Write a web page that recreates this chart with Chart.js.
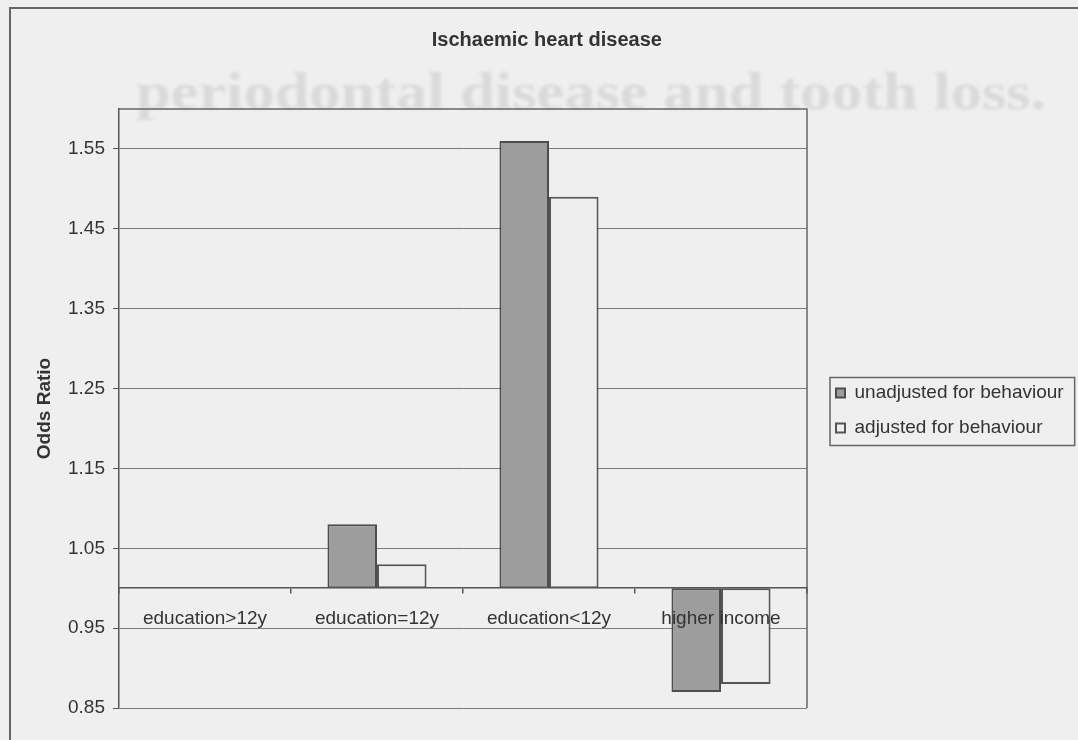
<!DOCTYPE html>
<html lang="en">
<head>
<meta charset="utf-8">
<title>Ischaemic heart disease</title>
<script src="https://cdn.jsdelivr.net/npm/chart.js@4.4.1/dist/chart.umd.min.js"></script>
<style>
  html, body { margin: 0; padding: 0; background: #efefef; }
  #stage { position: relative; width: 1078px; height: 740px; overflow: hidden; background: #efefef; }
  #show-through {
    position: absolute; left: 136px; top: 62px;
    font: bold 52px "Liberation Serif", "DejaVu Serif", serif;
    color: #dadada; white-space: nowrap;
    transform: scaleX(1.2); transform-origin: left top;
    filter: blur(1.4px);
  }
  #frame { position: absolute; left: 9px; top: 7px; right: -10px; bottom: -10px;
           border-left: 2px solid #666; border-top: 2px solid #666; }
  #chart { position: absolute; left: 0; top: 0; }
</style>
</head>
<body>
<div id="stage">
  <div id="show-through">periodontal disease and tooth loss.</div>
  <div id="frame"></div>
  <canvas id="chart" width="1078" height="740"></canvas>
</div>
<script>
// Odds ratios for ischaemic heart disease, before and after adjusting for behaviour
const categories = ['education>12y', 'education=12y', 'education<12y', 'higher income'];
const unadjusted = [1.00, 1.08, 1.56, 0.87];
const adjusted = [1.00, 1.03, 1.49, 0.88];
const seriesNames = ['unadjusted for behaviour', 'adjusted for behaviour'];
const referenceOR = 1.0;
const yTickValues = [0.85, 0.95, 1.05, 1.15, 1.25, 1.35, 1.45, 1.55];
const yMin = 0.85;
const yMax = 1.60;

const FONT = '"Liberation Sans", Arial, Helvetica, sans-serif';
Chart.defaults.font.family = FONT;
Chart.defaults.font.size = 19;
Chart.defaults.color = '#333';

const PAD_LEFT = 11;
const PLOT_LEFT = 119;
const PLOT_RIGHT = 807;

// Thin border on the top and right sides of the plot area
const plotFrame = {
  id: 'plotFrame',
  beforeDatasetsDraw(chart) {
    const { ctx, chartArea: a } = chart;
    ctx.save();
    ctx.strokeStyle = '#666';
    ctx.lineWidth = 1.5;
    ctx.beginPath();
    ctx.moveTo(a.left, a.top);
    ctx.lineTo(a.right, a.top);
    ctx.lineTo(a.right, a.bottom);
    ctx.stroke();
    ctx.restore();
  }
};

// Nudges the legend and title, and draws a box round the legend entries
const legendBox = {
  id: 'legendBox',
  afterLayout(chart) {
    const lg = chart.legend;
    lg.left += 13; lg.right += 13;
    lg.top += 2; lg.bottom += 2;
    const t = chart.titleBlock;
    t.left += 11; t.right += 11;
  },
  afterDraw(chart) {
    const boxes = chart.legend.legendHitBoxes;
    if (!boxes || !boxes.length) return;
    const left = Math.min(...boxes.map(b => b.left)) - 6;
    const right = Math.max(...boxes.map(b => b.left + b.width)) + 11;
    const top = boxes[0].top - 6;
    const last = boxes[boxes.length - 1];
    const bottom = last.top + last.height + 8;
    const { ctx } = chart;
    ctx.save();
    ctx.strokeStyle = '#666';
    ctx.lineWidth = 1.5;
    ctx.strokeRect(left, top, right - left, bottom - top);
    ctx.restore();
  }
};

const chart = new Chart(document.getElementById('chart'), {
  type: 'bar',
  data: {
    labels: categories,
    datasets: [
      {
        label: seriesNames[0],
        data: unadjusted,
        base: referenceOR,
        backgroundColor: '#9d9d9d',
        borderColor: '#4d4d4d',
        borderWidth: 2,
        borderSkipped: false,
        categoryPercentage: 0.576,
        barPercentage: 1
      },
      {
        label: seriesNames[1],
        data: adjusted,
        base: referenceOR,
        backgroundColor: '#eeeeee',
        borderColor: '#555',
        borderWidth: 2,
        borderSkipped: false,
        categoryPercentage: 0.576,
        barPercentage: 1
      }
    ]
  },
  options: {
    responsive: false,
    animation: false,
    events: [],
    layout: { padding: { left: PAD_LEFT, right: 0, top: 7, bottom: 32 } },
    scales: {
      x: {
        type: 'category',
        position: { y: referenceOR },
        offset: true,
        grid: { offset: true, drawOnChartArea: false, drawTicks: true, tickLength: 5, color: '#555', lineWidth: 1.5, z: 1 },
        border: { display: true, color: '#555', width: 1.5, z: 1 },
        ticks: { padding: 14, maxRotation: 0, autoSkip: false, color: '#333', font: { size: 19 }, z: 2 },
        afterFit(scale) { scale.height = 0; }
      },
      y: {
        min: yMin,
        max: yMax,
        afterBuildTicks(scale) { scale.ticks = yTickValues.map(value => ({ value })); },
        afterFit(scale) { scale.width = PLOT_LEFT - PAD_LEFT; },
        grid: { color: '#7a7a7a', lineWidth: 1, tickLength: 6, tickColor: '#555' },
        border: { display: true, color: '#555', width: 1.5 },
        ticks: {
          padding: 8,
          color: '#333',
          font: { size: 19 },
          callback: value => Number(value).toFixed(2)
        },
        title: {
          display: true,
          text: 'Odds Ratio',
          color: '#333',
          font: { size: 19, weight: 'bold' },
          padding: { top: 22.6, bottom: 0 }
        }
      }
    },
    plugins: {
      title: {
        display: true,
        text: 'Ischaemic heart disease',
        color: '#333',
        font: { size: 20, weight: 'bold' },
        padding: { top: 21.6, bottom: 56.4 }
      },
      legend: {
        position: 'right',
        align: 'center',
        fullSize: false,
        labels: { boxWidth: 9, boxHeight: 9, padding: 16, color: '#333', font: { size: 19 } }
      },
      tooltip: { enabled: false }
    }
  },
  plugins: [plotFrame, legendBox]
});

// Leave just enough room on the right so the plot area ends where the legend begins
chart.options.layout.padding.right = Math.max(0, (chart.width - PLOT_RIGHT) - chart.legend.width);
chart.update('none');
</script>
</body>
</html>
